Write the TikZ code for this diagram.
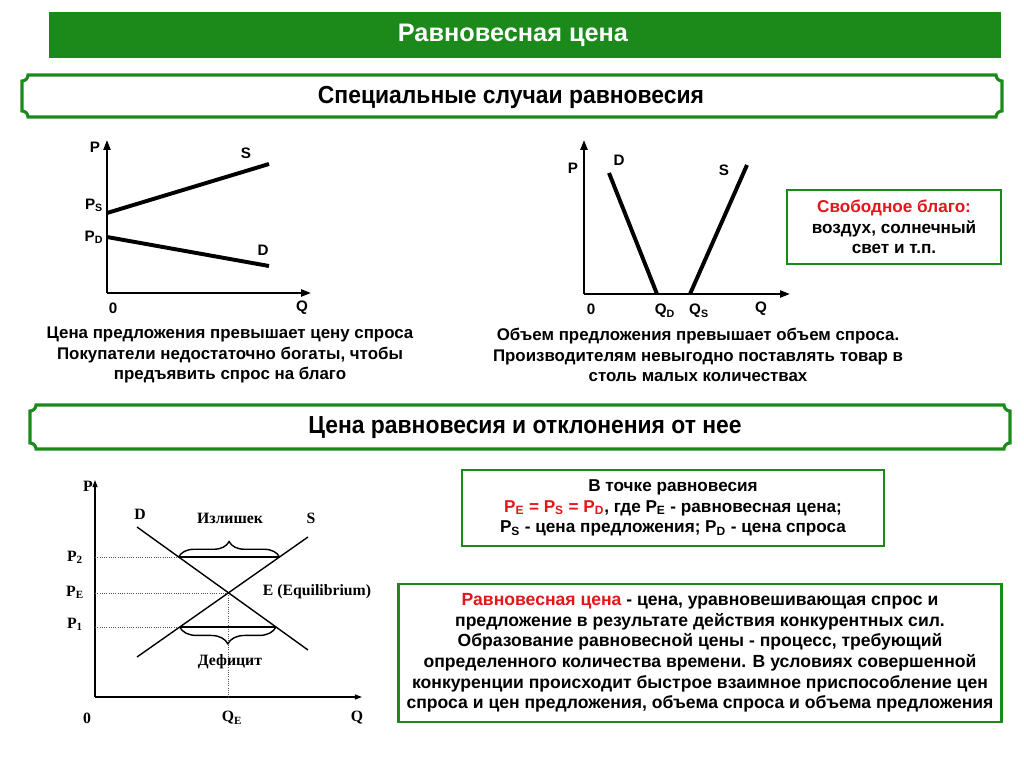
\documentclass[tikz,border=0pt]{standalone}
\usepackage{fontspec}
\setmainfont{Liberation Sans}
\newfontfamily\graphserif{Liberation Serif}
\usetikzlibrary{positioning, arrows.meta, decorations.pathreplacing, calc}
\definecolor{bannerGreen}{HTML}{1B8A1B}
\definecolor{accentRed}{HTML}{E3161A}
\definecolor{dotGrey}{HTML}{555555}

% banner with hollow corners: x1 y1 x2 y2 (pixels)
\newcommand\plaque[4]{%
  \draw[bannerGreen, line width=2.2pt, fill=white]
    (#1+6,#2) -- (#3-6,#2) .. controls (#3-6,#2+3.3) and (#3-3.3,#2+6) .. (#3,#2+6)
    -- (#3,#4-6) .. controls (#3-3.3,#4-6) and (#3-6,#4-3.3) .. (#3-6,#4)
    -- (#1+6,#4) .. controls (#1+6,#4-3.3) and (#1+3.3,#4-6) .. (#1,#4-6)
    -- (#1,#2+6) .. controls (#1+3.3,#2+6) and (#1+6,#2+3.3) .. cycle;}
\newcommand\sub[1]{\textsubscript{#1}}

\begin{document}
\begin{tikzpicture}[x=0.025cm, y=-0.025cm,
    lbl/.style={font=\bfseries\fontsize{10.8}{12}\selectfont, inner sep=0pt},
    serlbl/.style={font=\graphserif\bfseries\fontsize{11.2}{12}\selectfont, inner sep=0pt},
    caption/.style={font=\bfseries\fontsize{12}{14.4}\selectfont, align=center, inner sep=0pt},
    infobox/.style={draw=bannerGreen, line width=1.8pt, fill=white, align=center,
      inner sep=0pt, font=\bfseries\fontsize{12.2}{14.5}\selectfont},
    bannertext/.style={font=\bfseries\fontsize{17.5}{20}\selectfont, inner sep=0pt},
    axis/.style={line width=1.4pt, -{Triangle[length=7pt, width=5pt]}},
    thinaxis/.style={line width=0.9pt, -{Triangle[length=5pt, width=3.5pt]}},
    curve/.style={line width=2.8pt},
    thincurve/.style={line width=1pt},
    guide/.style={dotGrey, line width=0.6pt, densely dotted}]
  \useasboundingbox (0,0) rectangle (1024,767);

  % title bar
  \fill[bannerGreen] (49,12) rectangle (1001,58);
  \node[text=white, font=\bfseries\fontsize{18}{20}\selectfont, inner sep=0pt] (title) at (513,35)
    {Равновесная цена};

  % banners
  \plaque{22}{75}{1002}{117}
  \node[bannertext] (ban1) at (511,97)
    {\scalebox{0.93}[1]{Специальные случаи равновесия}};
  \plaque{30}{405}{1010}{449}
  \node[bannertext] (ban2) at (525,428)
    {\scalebox{0.93}[1]{Цена равновесия и отклонения от нее}};

  % graph 1: supply above demand
  \coordinate (o1) at (107,293);
  \coordinate (y1) at (107,140);
  \coordinate (x1) at (311,293);
  \draw[axis] (o1) -- (y1);
  \draw[axis] (o1) -- (x1);
  \coordinate (s1a) at (107,213);
  \coordinate (s1b) at (269,164);
  \coordinate (d1a) at (107,237);
  \coordinate (d1b) at (269,266);
  \draw[curve] (s1a) -- (s1b);
  \draw[curve] (d1a) -- (d1b);
  \node[lbl] (p1) at (95,147) {P};
  \node[lbl] (s1) at (246,153) {S};
  \node[lbl] (ps1) at (94,205) {P\sub{S}};
  \node[lbl] (pd1) at (94,237) {P\sub{D}};
  \node[lbl] (d1) at (263,250) {D};
  \node[lbl] (zero1) at (113,308) {0};
  \node[lbl] (q1) at (302,308) {Q};
  \node[caption] (cap1) at (230,355)
    {Цена предложения превышает цену спроса\\
     Покупатели недостаточно богаты, чтобы\\
     предъявить спрос на благо};

  % graph 2: supply to the right of demand
  \coordinate (o2) at (584,294);
  \coordinate (y2) at (584,140);
  \coordinate (x2) at (790,294);
  \draw[axis] (o2) -- (y2);
  \draw[axis] (o2) -- (x2);
  \coordinate (d2a) at (609,173);
  \coordinate (d2b) at (657,294);
  \coordinate (s2a) at (690,294);
  \coordinate (s2b) at (747,165);
  \draw[curve] (d2a) -- (d2b);
  \draw[curve] (s2a) -- (s2b);
  \node[lbl] (p2) at (573,168) {P};
  \node[lbl] (d2) at (619,160) {D};
  \node[lbl] (s2) at (724,170) {S};
  \node[lbl] (zero2) at (591,309) {0};
  \node[lbl] (qd2) at (665,311) {Q\sub{D}};
  \node[lbl] (qs2) at (699,311) {Q\sub{S}};
  \node[lbl] (q2) at (761,309) {Q};
  \node[caption] (cap2) at (698,355)
    {Объем предложения превышает объем спроса.\\
     Производителям невыгодно поставлять товар в\\
     столь малых количествах};

  \node[infobox, minimum width=5.35cm, minimum height=1.85cm] (free) at (894,227)
    {\textcolor{accentRed}{Свободное благо:}\\воздух, солнечный\\свет и т.п.};

  % graph 3: equilibrium and deviations
  \coordinate (o3) at (95,697);
  \coordinate (y3) at (95,480);
  \coordinate (x3) at (362,697);
  \draw[thinaxis] (o3) -- (y3);
  \draw[thinaxis] (o3) -- (x3);
  \coordinate (d3a) at (137,527);
  \coordinate (d3b) at (308,650);
  \coordinate (s3a) at (137,657);
  \coordinate (s3b) at (308,537);
  \coordinate (eq) at (228.5,593);
  \coordinate (hiD) at (178.7,557);
  \coordinate (hiS) at (279.5,557);
  \coordinate (loS) at (179.7,627);
  \coordinate (loD) at (276,627);
  \draw[guide] (95,557) -- (hiD);
  \draw[guide] (95,593) -- (eq);
  \draw[guide] (95,627) -- (loS);
  \draw[guide] (eq) -- (228.5,697);
  \draw[thincurve] (d3a) -- (d3b);
  \draw[thincurve] (s3a) -- (s3b);
  \draw[thincurve] (hiD) -- (hiS);
  \draw[thincurve] (loS) -- (loD);
  \draw[thincurve, decorate, decoration={brace, amplitude=11pt}] (hiD) -- (hiS);
  \draw[thincurve, decorate, decoration={brace, mirror, amplitude=12pt}] (loS) -- (loD);
  \node[serlbl] (p3) at (88,486) {P};
  \node[serlbl] (d3) at (140,514) {D};
  \node[serlbl] (s3) at (311,518) {S};
  \node[serlbl] (surplus) at (230,518) {Излишек};
  \node[serlbl] (deficit) at (230,662) {Дефицит};
  \node[serlbl] (p3two) at (75,557) {P\sub{2}};
  \node[serlbl] (p3e) at (75,592) {P\sub{E}};
  \node[serlbl] (p3one) at (75,624) {P\sub{1}};
  \node[serlbl] (eqlbl) at (317,592) {E (Equilibrium)};
  \node[serlbl] (zero3) at (87,718) {0};
  \node[serlbl] (qe3) at (232,718) {Q\sub{E}};
  \node[serlbl] (q3) at (357,718) {Q};

  % text boxes
  \node[infobox, minimum width=10.55cm, minimum height=1.9cm] (point) at (673,508)
    {В точке равновесия\\
     \textcolor{accentRed}{P\sub{E} = P\sub{S} = P\sub{D}}, где P\sub{E} - равновесная цена;\\
     P\sub{S} - цена предложения; P\sub{D} - цена спроса};
  \node[infobox, minimum width=15.075cm, minimum height=3.45cm,
        font=\bfseries\fontsize{12.5}{14.6}\selectfont] (define) at (700,653)
    {\textcolor{accentRed}{Равновесная цена} - цена, уравновешивающая спрос и\\
     предложение в результате действия конкурентных сил.\\
     Образование равновесной цены - процесс, требующий\\
     определенного количества времени. В условиях совершенной\\
     конкуренции происходит быстрое взаимное приспособление цен\\
     спроса и цен предложения, объема спроса и объема предложения};
\end{tikzpicture}
\end{document}
